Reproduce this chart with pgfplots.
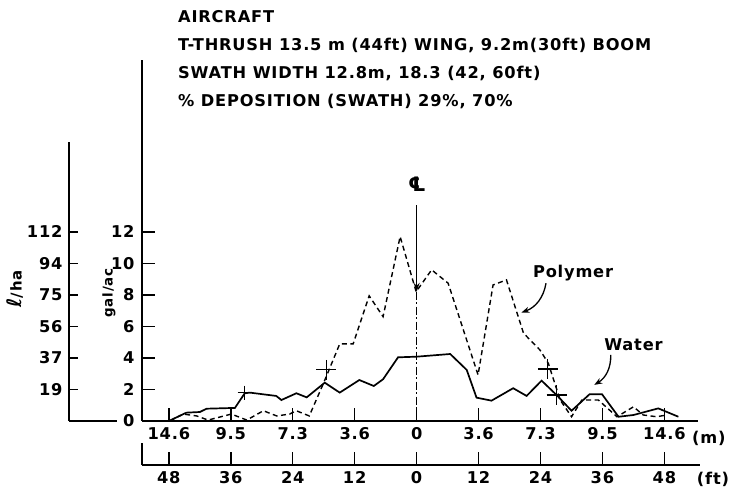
\documentclass[border=0pt]{standalone}
\usepackage{fontspec}
\setmainfont{DejaVu Sans}[LetterSpace=5]
\newfontfamily\dejavu{DejaVu Sans}
\usepackage{pgfplots}
\pgfplotsset{compat=1.18}
\usetikzlibrary{arrows.meta}
\newcommand{\lab}{\bfseries\fontsize{16.3}{18}\selectfont}
\begin{document}
\begin{tikzpicture}[font=\lab]
\useasboundingbox (0bp,0bp) rectangle (731bp,489bp);
% title block
\node[anchor=base west, inner sep=0] at (178bp,466bp) {AIRCRAFT};
\node[anchor=base west, inner sep=0] at (178bp,438bp) {T-THRUSH 13.5 m (44ft) WING, 9.2m(30ft) BOOM};
\node[anchor=base west, inner sep=0] at (178bp,410bp) {SWATH WIDTH 12.8m, 18.3 (42, 60ft)};
\node[anchor=base west, inner sep=0] at (178bp,382bp) {\% DEPOSITION (SWATH) 29\%, 70\%};
% axis labels
\node[rotate=90, font=\bfseries\fontsize{15}{16}\selectfont] at (15bp,200bp) {{\dejavu\fontsize{20}{20}\selectfont ℓ}/ha};
\node[rotate=90, font=\bfseries\fontsize{13.5}{16}\selectfont] at (109bp,196bp) {gal/ac};
% l/ha axis
\begin{axis}[at={(69bp,68bp)}, anchor=south west, scale only axis,
  width=48bp, height=279bp, xmin=0, xmax=1, ymin=0, ymax=17.71,
  axis x line=bottom, axis y line=left,
  axis line style={-, line width=1.8bp},
  xtick=\empty, tick align=inside, major tick length=9bp,
  tick style={line width=1.5bp, black},
  ytick={2,4,6,8,10,12}, yticklabels={19,37,56,75,94,112},
  yticklabel style={xshift=-3bp},
  every tick label/.append style={font=\lab},
  /pgf/number format/assume math mode=true]
\end{axis}
% ft axis
\begin{axis}[at={(142bp,24bp)}, anchor=south west, scale only axis,
  width=558bp, height=20bp, xmin=-53.2, xmax=54.9, ymin=0, ymax=1,
  axis x line=bottom, axis y line=none,
  axis line style={-, line width=1.8bp},
  tick align=inside, major tick length=13bp,
  tick style={line width=1.5bp, black},
  xtick={-48,-36,...,48}, xticklabels={48,36,24,12,0,12,24,36,48},
  xticklabel style={yshift=-3bp},
  extra x ticks={-53.2}, extra x tick labels={},
  extra x tick style={major tick length=22bp},
  ytick=\empty,
  every tick label/.append style={font=\lab},
  /pgf/number format/assume math mode=true]
\end{axis}
\node at (713bp,10bp) {(ft)};
% main axis
\begin{axis}[at={(142bp,68bp)}, anchor=south west, scale only axis,
  width=556bp, height=361bp,
  xmin=-53.2, xmax=54.5, ymin=0, ymax=22.9,
  axis x line=bottom, axis y line=left,
  axis line style={-, line width=1.8bp},
  tick align=inside, major tick length=13bp,
  tick style={line width=1.5bp, black},
  xtick={-48,-36,...,48},
  xticklabels={14.6,9.5,7.3,3.6,0,3.6,7.3,9.5,14.6},
  xticklabel style={yshift=-3bp},
  yticklabel style={xshift=-4bp},
  ytick={0,2,...,12}, yticklabels={0,2,4,6,8,10,12},
  every tick label/.append style={font=\lab},
  /pgf/number format/assume math mode=true,
  clip=false]
% Water
\addplot[black, line width=1.7bp] coordinates {
(-48.0,0) (-44.6,0.53) (-42.0,0.57) (-40.7,0.78) (-35.2,0.83) (-33.3,1.76)
(-32.3,1.8) (-27.2,1.59) (-26.2,1.33) (-23.3,1.76) (-21.3,1.5) (-17.8,2.43)
(-14.9,1.8) (-11.1,2.6) (-8.3,2.22) (-6.5,2.65) (-3.6,4.04) (0,4.08)
(6.5,4.25) (9.7,3.24) (11.6,1.48) (14.5,1.29) (18.7,2.08) (21.3,1.59)
(24.2,2.56) (27.1,1.65) (30.0,0.65) (33.5,1.7) (35.9,1.7) (39.1,0.27)
(42.0,0.38) (46.8,0.8) (50.7,0.27)};
% Polymer
\addplot[black, line width=1.4bp, dash pattern=on 5bp off 3.5bp] coordinates {
(-47.8,0) (-45.2,0.44) (-42.6,0.32) (-40.4,0.06) (-35.9,0.44) (-32.9,0.06)
(-29.7,0.65) (-27.1,0.32) (-24.6,0.44) (-23.3,0.65) (-20.8,0.32) (-18.1,2.35)
(-14.9,4.89) (-12.3,4.89) (-9.2,7.94) (-6.5,6.62) (-3.2,11.7) (-0.1,8.2)
(2.9,9.59) (6.1,8.74) (11.9,2.92) (14.8,8.63) (17.4,8.95) (20.7,5.57)
(23.9,4.5) (25.5,3.66) (27.8,1.33) (30.0,0.27) (32.0,1.33) (35.2,1.33)
(38.8,0.27) (42.0,0.9) (43.9,0.38) (46.5,0.27) (48.4,0.38)};
% swath edge marks
\addplot[only marks, mark=+, mark size=7bp, line width=1.4bp] coordinates {(-33.3,1.8)};
\addplot[only marks, mark=+, mark size=10bp, line width=1.4bp] coordinates {(-17.5,3.25) (25.4,3.3) (27.1,1.65)};
% centerline
\draw[line width=1.3bp, -{Stealth[length=9bp,width=6bp]}] (axis cs:0,13.7) -- (axis cs:0,8.2);
\draw[line width=1.3bp, dash pattern=on 8bp off 2.5bp on 2bp off 2.5bp] (axis cs:0,8.2) -- (axis cs:0,0);
\node[inner sep=0] at (axis cs:0.1,15.0) {{\dejavu\bfseries\fontsize{20}{20}\selectfont ℄}};
% annotations
\node at (axis cs:30.3,9.38) {Polymer};
\draw[line width=1.3bp, -{Stealth[length=8bp,width=6bp]}] (axis cs:25.06,8.74) to[bend left=30] (axis cs:20.3,6.88);
\node at (axis cs:42.0,4.83) {Water};
\draw[line width=1.3bp, -{Stealth[length=8bp,width=6bp]}] (axis cs:37.6,4.19) to[bend left=30] (axis cs:34.4,2.29);
\node at (axis cs:56.6,-1.1) {(m)};
\end{axis}
\end{tikzpicture}
\end{document}
